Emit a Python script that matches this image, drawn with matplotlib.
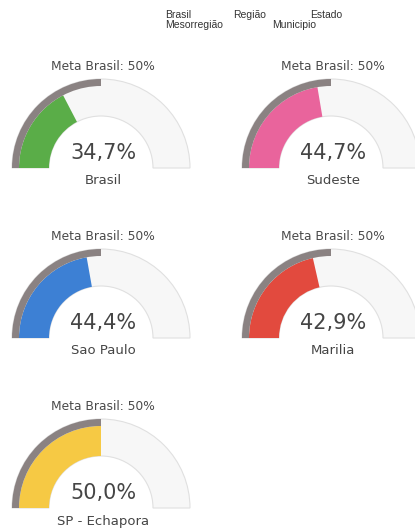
import matplotlib.pyplot as plt
from matplotlib.patches import Wedge

# gauge data
names = ['Brasil', 'Sudeste', 'Sao Paulo', 'Marilia', 'SP - Echapora']
values = [34.7, 44.7, 44.4, 42.9, 50.0]
colors = ['#5aad48', '#e9649c', '#3d80d4', '#e24a3e', '#f6c944']
meta = 50
legend_row1 = ['Brasil', 'Região', 'Estado']
legend_row2 = ['Mesorregião', 'Municipio']

W, H = 415, 531
fig = plt.figure(figsize=(W / 100, H / 100), dpi=100)
ax = fig.add_axes([0, 0, 1, 1])
ax.set_xlim(0, W)
ax.set_ylim(0, H)
ax.axis('off')

# centres of each gauge in pixels from top-left
centers = [(101, 168), (331, 168), (101, 338), (331, 338), (101, 508)]
r_out, r_gray, r_in = 89, 82, 52


def draw_gauge(cx, cy_top, value, color, name):
    cy = H - cy_top
    ax.add_patch(Wedge((cx, cy), r_out, 0, 180, width=r_out - r_in,
                       facecolor='#f7f7f7', edgecolor='#e0e0e0', lw=0.8))
    ang = 180 - 180 * value / 100
    ax.add_patch(Wedge((cx, cy), r_gray, ang, 180, width=r_gray - r_in,
                       facecolor=color, edgecolor='none'))
    ax.add_patch(Wedge((cx, cy), r_out, 180 - 180 * meta / 100, 180,
                       width=r_out - r_gray, facecolor='#8a8282', edgecolor='none'))
    ax.text(cx + 2, cy + 102, 'Meta Brasil: %d%%' % meta, ha='center', va='center',
            fontsize=8.8, color='#4a4a4a')
    ax.text(cx + 2, cy + 15, ('%.1f%%' % value).replace('.', ','), ha='center',
            va='center', fontsize=15, color='#454545')
    ax.text(cx + 2, cy - 13, name, ha='center', va='center', fontsize=9.5,
            color='#454545')


for (cx, cy), v, c, n in zip(centers, values, colors, names):
    draw_gauge(cx, cy, v, c, n)

# legend text at the top
for x, t in zip([165, 233, 310], legend_row1):
    ax.text(x, H - 15, t, fontsize=7.5, family='Liberation Sans', color='#333333',
            va='center')
for x, t in zip([165, 272], legend_row2):
    ax.text(x, H - 25, t, fontsize=7.5, family='Liberation Sans', color='#333333',
            va='center')

fig.savefig('out.png', dpi=100)
